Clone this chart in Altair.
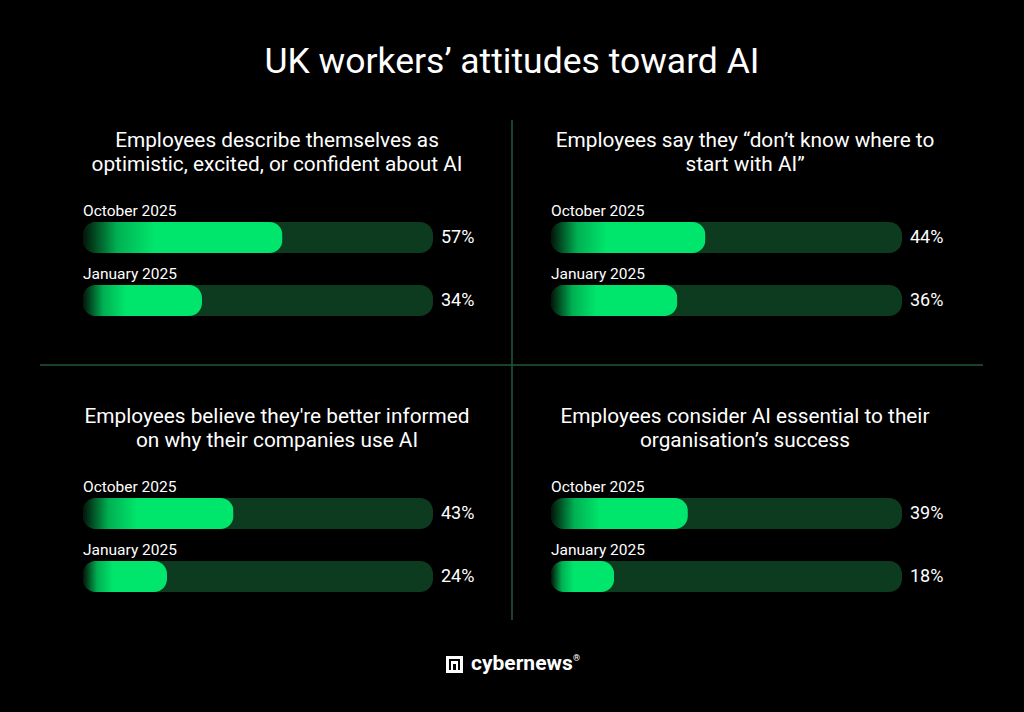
import altair as alt
import pandas as pd

# ---- data ----
main_title = "UK workers\u2019 attitudes toward AI"
panel_titles = [
    ["Employees describe themselves as", "optimistic, excited, or confident about AI"],
    ["Employees say they \u201cdon\u2019t know where to", "start with AI\u201d"],
    ["Employees believe they're better informed", "on why their companies use AI"],
    ["Employees consider AI essential to their", "organisation\u2019s success"],
]
periods = ["October 2025", "January 2025"]
october_values = [57, 44, 43, 39]
january_values = [34, 36, 24, 18]
brand = "cybernews"

# ---- style ----
FONT = "Roboto"
BG = "#000000"
TRACK = "#0d3b1f"
GREEN = "#00e66c"
DIVIDER = "#22583c"
col_range = [[83, 433], [551, 902]]
row_range = [[206, 332], [482, 608]]
title_x = [277, 745]
title_y = [141, 417]

grad = alt.Gradient(
    gradient="linear",
    x1=0, x2=1, y1=0, y2=0,
    stops=[
        alt.GradientStop(color="#021408", offset=0),
        alt.GradientStop(color="#00b052", offset=0.17),
        alt.GradientStop(color=GREEN, offset=0.36),
        alt.GradientStop(color=GREEN, offset=1),
    ],
)

panels = []
for i in range(4):
    c, r = i % 2, i // 2
    df = pd.DataFrame({
        "period": periods,
        "value": [october_values[i], january_values[i]],
        "full": [100, 100],
        "zero": [0, 0],
    })
    df["label"] = df["value"].astype(str) + "%"
    xs = alt.Scale(domain=[0, 100], range=col_range[c])
    ys = alt.Scale(domain=periods, range=row_range[r], paddingInner=0, paddingOuter=0)
    base = alt.Chart(df)
    y = alt.Y("period:N", scale=ys, axis=None)
    track = base.mark_bar(size=31, cornerRadius=13, color=TRACK).encode(
        x=alt.X("full:Q", scale=xs, axis=None), y=y)
    fill = base.mark_bar(size=31, cornerRadius=13, fill=grad).encode(
        x=alt.X("value:Q", scale=xs, axis=None), y=y)
    plabel = base.mark_text(align="left", baseline="middle", dy=-27, fontSize=15.5,
                            font=FONT, color="white").encode(
        x=alt.X("zero:Q", scale=xs, axis=None), y=y, text="period:N")
    vlabel = base.mark_text(align="left", baseline="middle", dx=8, fontSize=18,
                            font=FONT, color="white").encode(
        x=alt.X("full:Q", scale=xs, axis=None), y=y, text="label:N")
    ptitle = alt.Chart(pd.DataFrame({"t": [panel_titles[i]]})).mark_text(
        align="center", baseline="middle", fontSize=20.8, lineHeight=24,
        font=FONT, color="white").encode(
        x=alt.value(title_x[c]), y=alt.value(title_y[r]), text="t")
    panels.append(alt.layer(track, fill, plabel, vlabel, ptitle))

title_layer = alt.Chart(pd.DataFrame({"t": [main_title]})).mark_text(
    align="center", baseline="middle", fontSize=35.5, font=FONT, color="white").encode(
    x=alt.value(512), y=alt.value(62), text="t")

vline = alt.Chart(pd.DataFrame({"a": [0]})).mark_rule(color=DIVIDER, strokeWidth=1.5).encode(
    x=alt.value(512), y=alt.value(120), y2=alt.value(620))
hline = alt.Chart(pd.DataFrame({"a": [0]})).mark_rule(color=DIVIDER, strokeWidth=1.5).encode(
    x=alt.value(40), x2=alt.value(983), y=alt.value(365))

logo_outer = alt.Chart(pd.DataFrame({"a": [0]})).mark_rect(color="white").encode(
    x=alt.value(446), x2=alt.value(463), y=alt.value(656), y2=alt.value(673))
logo_inner = alt.Chart(pd.DataFrame({"a": [0]})).mark_rect(color=BG).encode(
    x=alt.value(449), x2=alt.value(460), y=alt.value(659), y2=alt.value(670))
logo_n = alt.Chart(pd.DataFrame({"a": [0]})).mark_rect(color="white").encode(
    x=alt.value(451), x2=alt.value(458), y=alt.value(661), y2=alt.value(670))
logo_n2 = alt.Chart(pd.DataFrame({"a": [0]})).mark_rect(color=BG).encode(
    x=alt.value(453), x2=alt.value(456), y=alt.value(664), y2=alt.value(670))
logo_text = alt.Chart(pd.DataFrame({"t": [brand]})).mark_text(
    align="left", baseline="middle", fontSize=21, fontWeight="bold", font=FONT,
    color="white").encode(x=alt.value(471), y=alt.value(664), text="t")
logo_r = alt.Chart(pd.DataFrame({"t": ["\u00ae"]})).mark_text(
    align="left", baseline="middle", fontSize=9, fontWeight="bold", font=FONT,
    color="white").encode(x=alt.value(573), y=alt.value(658), text="t")

chart = alt.layer(
    *panels, title_layer, vline, hline,
    logo_outer, logo_inner, logo_n, logo_n2, logo_text, logo_r,
).resolve_scale(x="independent", y="independent").properties(
    width=1024, height=712, background=BG,
    autosize=alt.AutoSizeParams(type="none"), padding=0,
).configure_view(stroke=None)

chart.save("out.html", embed_options={"renderer": "svg", "actions": False})
